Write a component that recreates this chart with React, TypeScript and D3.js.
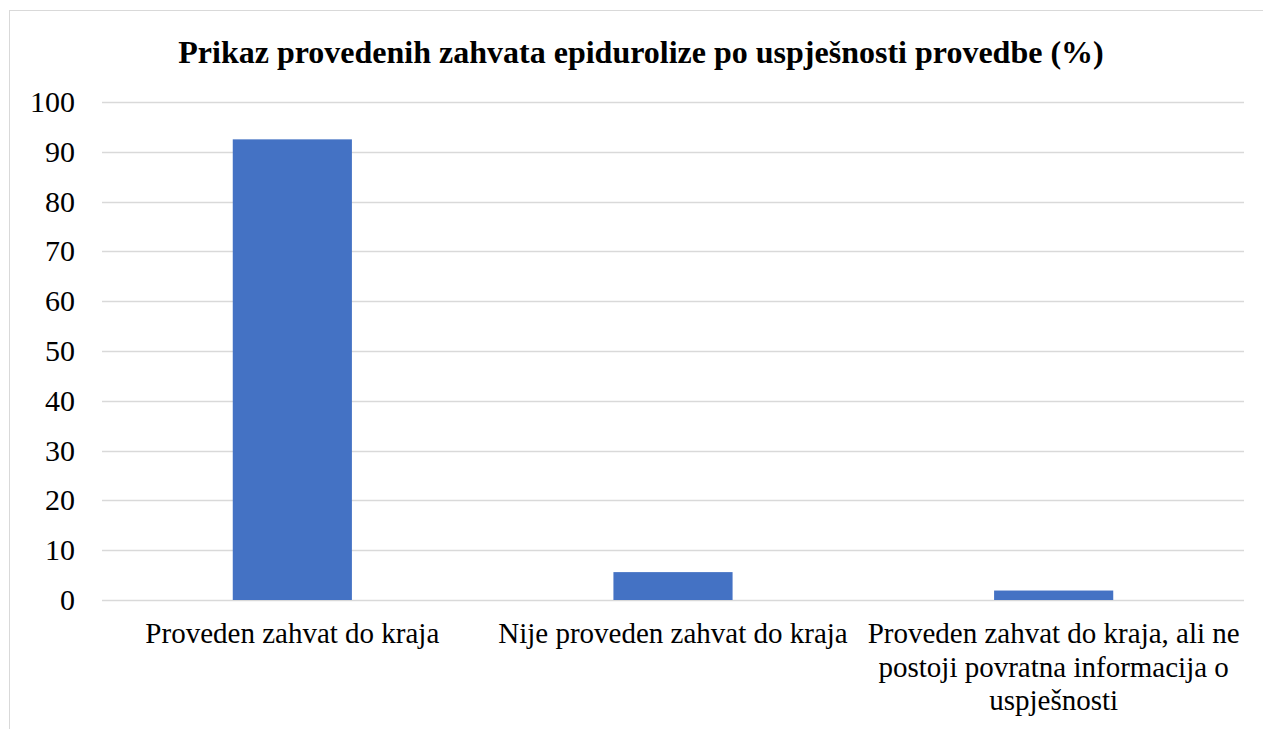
import React, { useEffect, useRef } from "react";
import * as d3 from "d3";

const title = "Prikaz provedenih zahvata epidurolize po uspješnosti provedbe (%)";
const categories = [
  "Proveden zahvat do kraja",
  "Nije proveden zahvat do kraja",
  "Proveden zahvat do kraja, ali ne postoji povratna informacija o uspješnosti",
];
const values = [92.5, 5.6, 1.9];
const yTicks = [0, 10, 20, 30, 40, 50, 60, 70, 80, 90, 100];

const W = 1263;
const H = 729;
const FONT = "Times New Roman, Liberation Serif, DejaVu Serif, serif";

export default function App() {
  const ref = useRef<SVGSVGElement>(null);

  useEffect(() => {
    const svg = d3.select(ref.current);
    svg.selectAll("*").remove();

    const left = 102, right = 1244, top = 102, bottom = 600;

    svg.append("rect")
      .attr("x", 9.5).attr("y", 10.5)
      .attr("width", 1270).attr("height", 740)
      .attr("fill", "#fff").attr("stroke", "#d9d9d9").attr("stroke-width", 1);

    svg.append("text")
      .attr("x", 641).attr("y", 63)
      .attr("text-anchor", "middle")
      .style("font-family", FONT).attr("font-weight", "bold").attr("font-size", 32)
      .attr("fill", "#000")
      .text(title);

    const y = d3.scaleLinear().domain([0, 100]).range([bottom, top]);
    const x = d3.scaleBand<string>().domain(categories).range([left, right])
      .paddingInner(0.687).paddingOuter(0.3435);

    svg.append("g").selectAll("line").data(yTicks).join("line")
      .attr("x1", left).attr("x2", right)
      .attr("y1", (d) => Math.round(y(d)) + 0.5).attr("y2", (d) => Math.round(y(d)) + 0.5)
      .attr("stroke", "#d9d9d9").attr("stroke-width", 1.3);

    svg.append("g").selectAll("text").data(yTicks).join("text")
      .attr("x", 75).attr("y", (d) => y(d) + 10)
      .attr("text-anchor", "end")
      .style("font-family", FONT).attr("font-size", 30).attr("fill", "#000")
      .text((d) => String(d));

    svg.append("g").selectAll("rect").data(values).join("rect")
      .attr("x", (_, i) => x(categories[i])!)
      .attr("width", x.bandwidth())
      .attr("y", (d) => y(d))
      .attr("height", (d) => y(0) - y(d))
      .attr("fill", "#4472c4");

    const step = x.step();
    const g = svg.append("g");
    categories.forEach((c, i) => {
      const cx = x(c)! + x.bandwidth() / 2;
      const t = g.append("text")
        .attr("text-anchor", "middle")
        .style("font-family", FONT).attr("font-size", 29).attr("fill", "#000");
      const words = c.split(" ");
      const lines: string[] = [];
      let cur = "";
      const probe = t.append("tspan");
      for (const w of words) {
        const test = cur ? cur + " " + w : w;
        probe.text(test);
        const len = (probe.node() as SVGTSpanElement).getComputedTextLength();
        if (len > step - 4 && cur) {
          lines.push(cur);
          cur = w;
        } else cur = test;
      }
      if (cur) lines.push(cur);
      probe.remove();
      lines.forEach((l, k) => {
        t.append("tspan").attr("x", cx).attr("y", 643 + k * 33.5).text(l);
      });
    });
  }, []);

  return (
    <svg
      ref={ref}
      width={W}
      height={H}
      style={{ position: "absolute", left: 0, top: 0, background: "#fff" }}
    />
  );
}
